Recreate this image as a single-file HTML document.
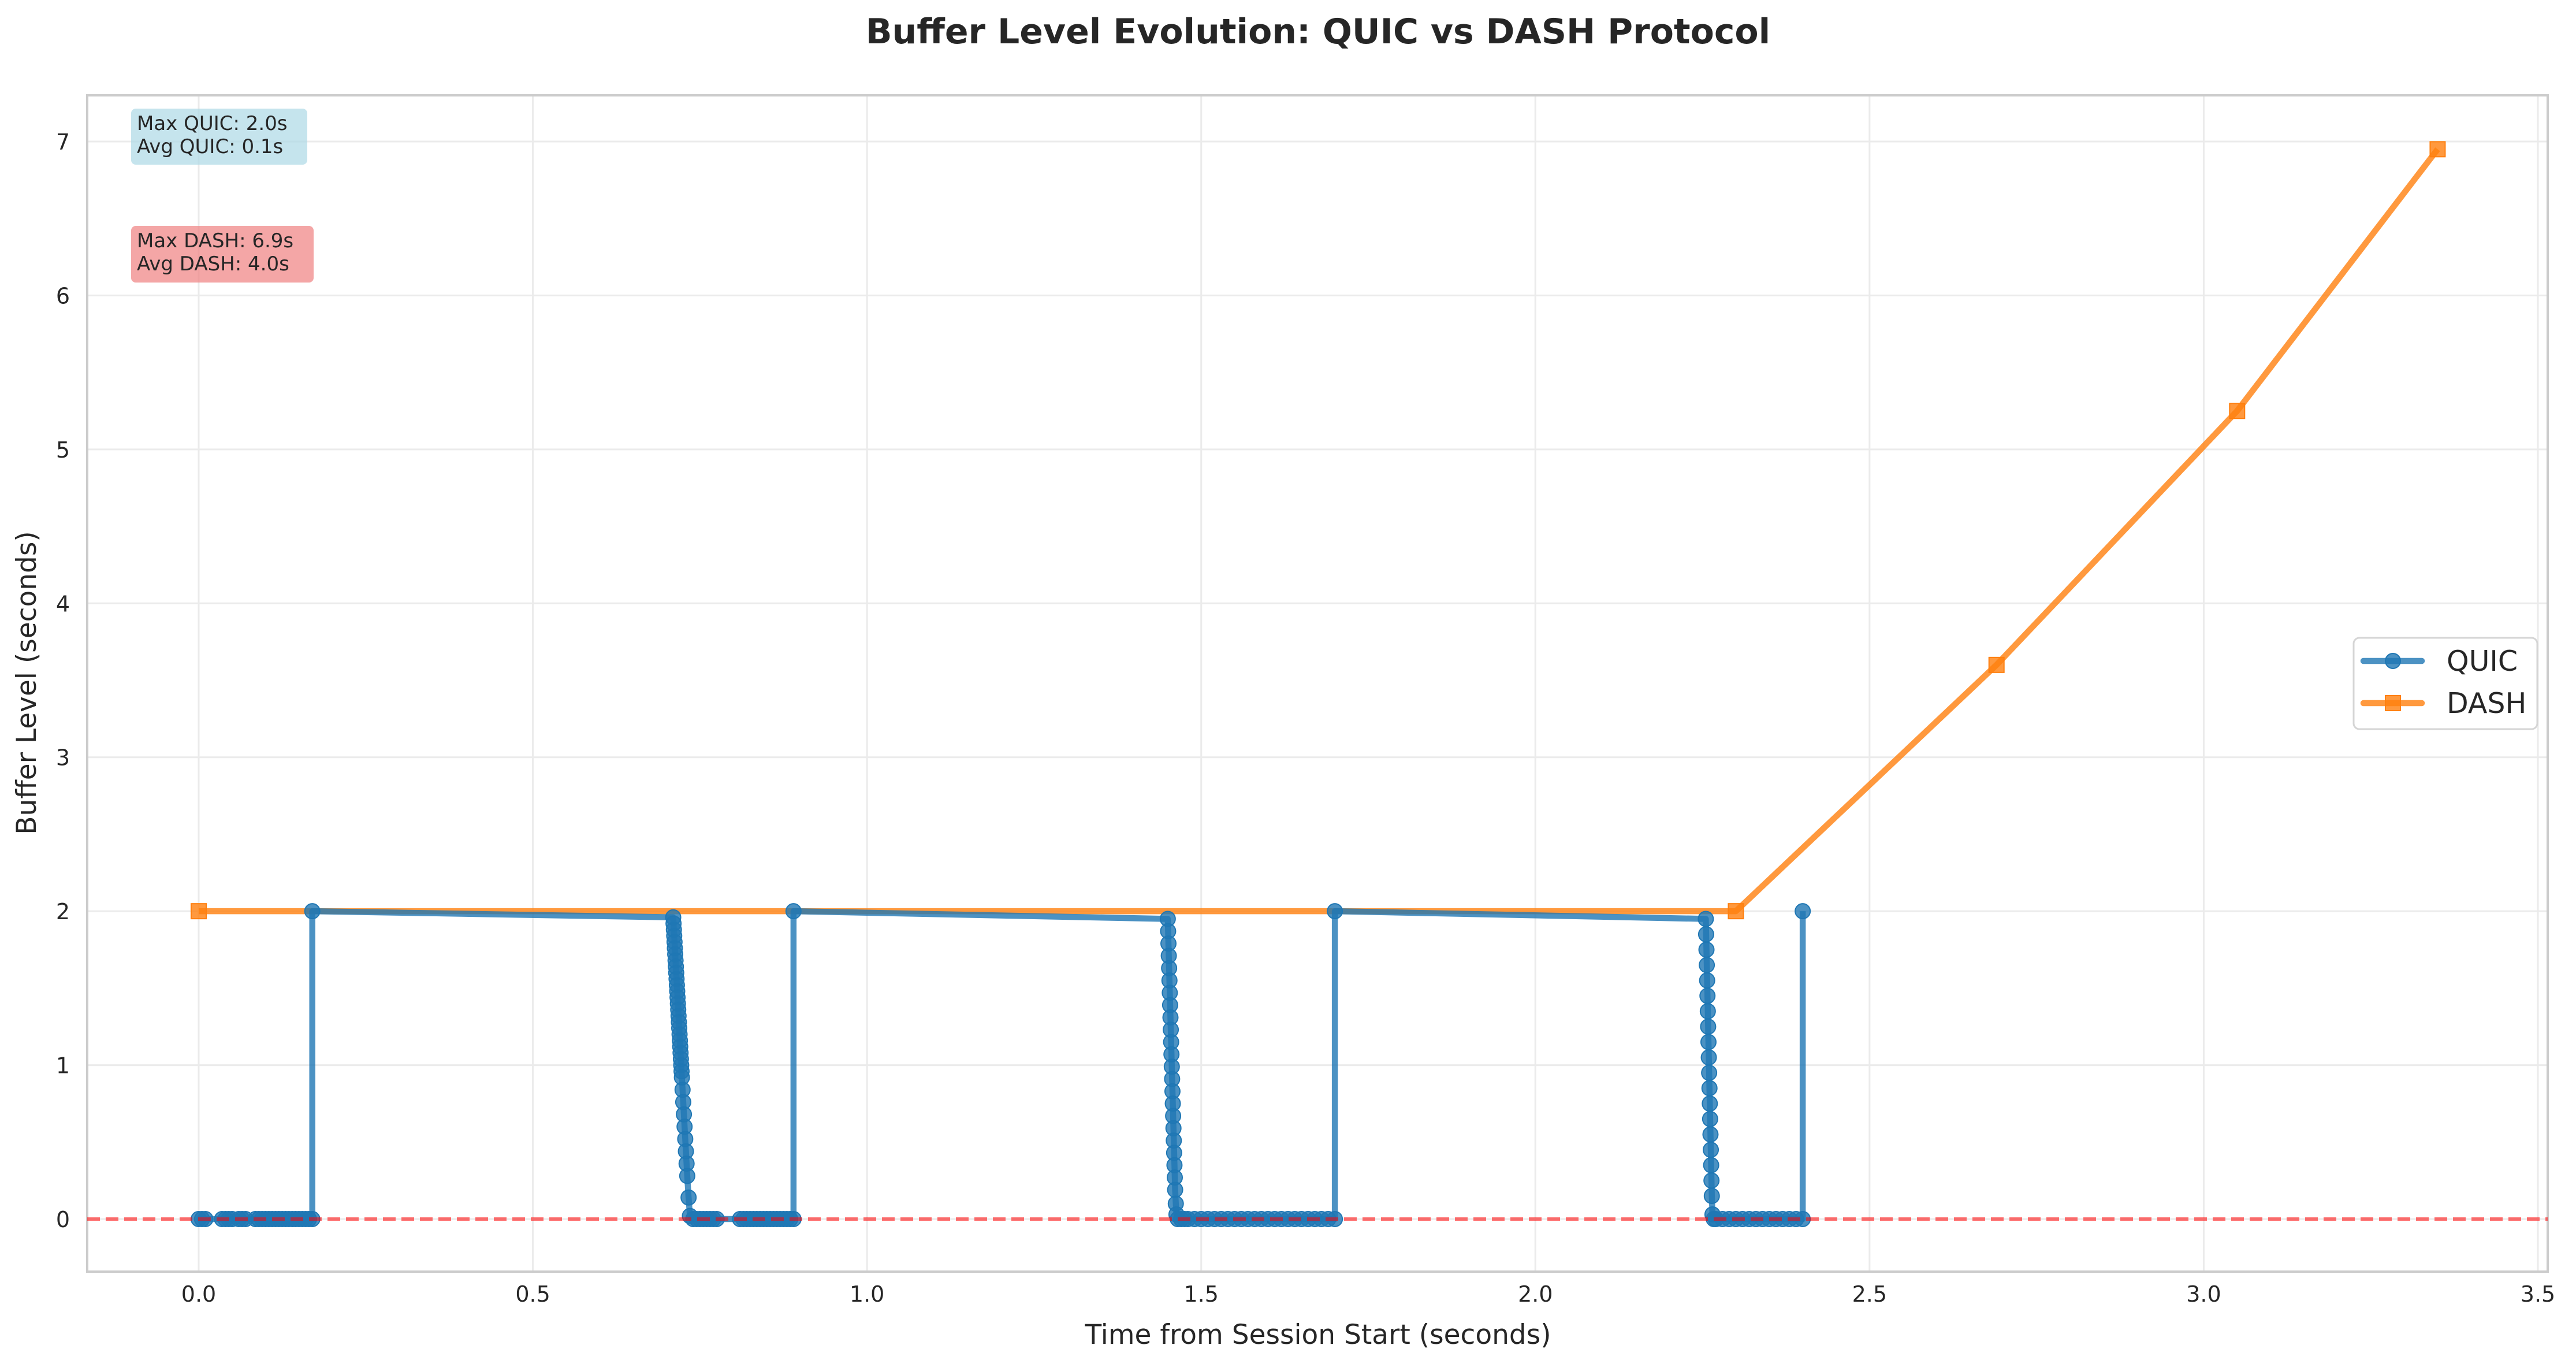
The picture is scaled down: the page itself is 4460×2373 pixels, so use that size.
<!DOCTYPE html>
<html><head><meta charset="utf-8"><style>
body{margin:0;background:#fff;}
svg text{font-family:"DejaVu Sans","Liberation Sans",sans-serif;fill:#262626;}
</style></head><body>
<svg id="chart" width="4460" height="2368" viewBox="0 0 4460 2368" xmlns="http://www.w3.org/2000/svg">
<rect width="4460" height="2368" fill="#fff"/>
<text x="2282" y="75" text-anchor="middle" font-size="60" font-weight="bold">Buffer Level Evolution: QUIC vs DASH Protocol</text>
<g id="grid"></g>
<g id="axes"></g>
<g id="plot"></g>
<g>
<rect x="227" y="188" width="305" height="97" rx="8" fill="#add8e6" opacity="0.7"/>
<text x="237" y="225" font-size="34">Max QUIC: 2.0s</text>
<text x="237" y="265" font-size="34">Avg QUIC: 0.1s</text>
</g>
<g>
<rect x="227" y="391" width="316" height="98" rx="8" fill="#f08080" opacity="0.7"/>
<text x="237" y="428" font-size="34">Max DASH: 6.9s</text>
<text x="237" y="468" font-size="34">Avg DASH: 4.0s</text>
</g>
<g>
<rect x="4075" y="1104" width="318" height="158" rx="10" fill="#fff" fill-opacity="0.8" stroke="#d5d5d5" stroke-width="3"/>
<g>
<line x1="4092" y1="1144" x2="4193" y2="1144" stroke="#1f77b4" stroke-opacity="0.8" stroke-width="10.5" stroke-linecap="round"/>
<circle cx="4143" cy="1144" r="13" fill="#1f77b4" fill-opacity="0.8" stroke="#1f77b4" stroke-width="2"/>
<text x="4236" y="1161" font-size="49">QUIC</text>
</g>
<g>
<line x1="4092" y1="1217" x2="4193" y2="1217" stroke="#ff7f0e" stroke-opacity="0.8" stroke-width="10.5" stroke-linecap="round"/>
<rect x="4130" y="1204" width="26" height="26" fill="#ff7f0e" fill-opacity="0.8" stroke="#ff7f0e" stroke-width="2"/>
<text x="4236" y="1234" font-size="49">DASH</text>
</g>
</g>
<text x="2282" y="2326" text-anchor="middle" font-size="47">Time from Session Start (seconds)</text>
<text transform="translate(62,1182) rotate(-90)" text-anchor="middle" font-size="47">Buffer Level (seconds)</text>
</svg>
<script>
const xTicks=[0,0.5,1.0,1.5,2.0,2.5,3.0,3.5];
const xTickLabels=["0.0","0.5","1.0","1.5","2.0","2.5","3.0","3.5"];
const yTicks=[0,1,2,3,4,5,6,7];
const yTickLabels=["0","1","2","3","4","5","6","7"];
const quicTime=[0,0.005,0.01,0.035,0.04,0.045,0.05,0.06,0.065,0.07,0.085,0.09,0.095,0.10,0.105,0.11,0.115,0.12,0.125,0.13,0.135,0.14,0.145,0.15,0.155,0.16,0.165,0.17,0.17,
0.71,0.7105,0.711,0.7115,0.712,0.7125,0.713,0.7135,0.714,0.7145,0.715,0.7155,0.716,0.7165,0.717,0.7175,0.718,0.7185,0.719,0.7195,0.72,0.7205,0.721,0.7215,0.722,0.7225,0.723,0.724,0.725,0.726,0.727,0.728,0.729,0.73,0.731,0.733,0.735,0.74,0.745,0.75,0.755,0.76,0.765,0.77,0.775,0.81,0.815,0.82,0.825,0.83,0.835,0.84,0.845,0.85,0.855,0.86,0.865,0.87,0.875,0.88,0.885,0.89,0.89,
1.45,1.4505,1.451,1.4515,1.452,1.4525,1.453,1.4535,1.454,1.4545,1.455,1.4555,1.456,1.4565,1.457,1.4575,1.458,1.4585,1.459,1.4595,1.46,1.4605,1.461,1.462,1.463,1.465,1.47,1.475,1.48,1.49,1.50,1.51,1.52,1.53,1.54,1.55,1.56,1.57,1.58,1.59,1.60,1.61,1.62,1.63,1.64,1.65,1.66,1.67,1.68,1.69,1.70,1.70,
2.255,2.2555,2.256,2.2565,2.257,2.2575,2.258,2.2585,2.259,2.2595,2.26,2.2605,2.261,2.2615,2.262,2.2625,2.263,2.2635,2.264,2.265,2.267,2.27,2.28,2.29,2.30,2.31,2.32,2.33,2.34,2.35,2.36,2.37,2.38,2.39,2.40,2.40];
const quicLevel=[0,0,0,0,0,0,0,0,0,0,0,0,0,0,0,0,0,0,0,0,0,0,0,0,0,0,0,0,2.0,
1.96,1.92,1.88,1.84,1.8,1.76,1.72,1.68,1.64,1.6,1.56,1.52,1.48,1.44,1.4,1.36,1.32,1.28,1.24,1.2,1.16,1.12,1.08,1.04,1.0,0.96,0.92,0.84,0.76,0.68,0.6,0.52,0.44,0.36,0.28,0.14,0.02,0,0,0,0,0,0,0,0,0,0,0,0,0,0,0,0,0,0,0,0,0,0,0,0,0,2.0,
1.95,1.87,1.79,1.71,1.63,1.55,1.47,1.39,1.31,1.23,1.15,1.07,0.99,0.91,0.83,0.75,0.67,0.59,0.51,0.43,0.35,0.27,0.19,0.1,0.03,0,0,0,0,0,0,0,0,0,0,0,0,0,0,0,0,0,0,0,0,0,0,0,0,0,0,2.0,
1.95,1.85,1.75,1.65,1.55,1.45,1.35,1.25,1.15,1.05,0.95,0.85,0.75,0.65,0.55,0.45,0.35,0.25,0.15,0.03,0,0,0,0,0,0,0,0,0,0,0,0,0,0,0,2.0];
const dashTime=[0,2.30,2.69,3.05,3.35];
const dashLevel=[2.0,2.0,3.6,5.25,6.95];

const L=151,R=4411,T=165,B=2201;
const X=v=>344+v*(4394-344)/3.5;
const Y=v=>2110-v*(2110-245)/7;
const NS="http://www.w3.org/2000/svg";
function mk(tag,attrs,parent){const e=document.createElementNS(NS,tag);for(const k in attrs)e.setAttribute(k,attrs[k]);parent.appendChild(e);return e;}
const grid=document.getElementById('grid'),axes=document.getElementById('axes'),plot=document.getElementById('plot');
xTicks.forEach((t,i)=>{
 const g=mk('line',{x1:X(t),x2:X(t),y1:T,y2:B,stroke:'#ebebeb','stroke-width':3},grid);
 
 
 const tx=mk('text',{x:X(t),y:B+52,'text-anchor':'middle','font-size':38},axes);
 tx.textContent=xTickLabels[i];
 
 
});
yTicks.forEach((t,i)=>{
 const g=mk('line',{x1:L,x2:R,y1:Y(t),y2:Y(t),stroke:'#ebebeb','stroke-width':3},grid);
 
 
 const tx=mk('text',{x:L-30,y:Y(t)+14,'text-anchor':'end','font-size':38},axes);
 tx.textContent=yTickLabels[i];
 
 
});
const sp=mk('rect',{x:L,y:T,width:R-L,height:B-T,fill:'none',stroke:'#cccccc','stroke-width':4},axes);


const dp=mk('polyline',{points:dashTime.map((t,i)=>X(t)+','+Y(dashLevel[i])).join(' '),fill:'none',stroke:'#ff7f0e','stroke-opacity':0.8,'stroke-width':10.5,'stroke-linejoin':'round'},plot);


dashTime.forEach((t,i)=>{
 const m=mk('rect',{x:X(t)-13,y:Y(dashLevel[i])-13,width:26,height:26,fill:'#ff7f0e','fill-opacity':0.8,stroke:'#ff7f0e','stroke-width':2},plot);
 
 
});
const qp=mk('polyline',{points:quicTime.map((t,i)=>X(t)+','+Y(quicLevel[i])).join(' '),fill:'none',stroke:'#1f77b4','stroke-opacity':0.8,'stroke-width':10.5,'stroke-linejoin':'round'},plot);


quicTime.forEach((t,i)=>{
 const m=mk('circle',{cx:X(t),cy:Y(quicLevel[i]),r:13,fill:'#1f77b4','fill-opacity':0.8,stroke:'#1f77b4','stroke-width':2},plot);
 
 
});
const zl=mk('line',{x1:L,x2:R,y1:Y(0),y2:Y(0),stroke:'#ff0000','stroke-opacity':0.55,'stroke-width':6,'stroke-dasharray':'22 10'},plot);


</script>
</body></html>
